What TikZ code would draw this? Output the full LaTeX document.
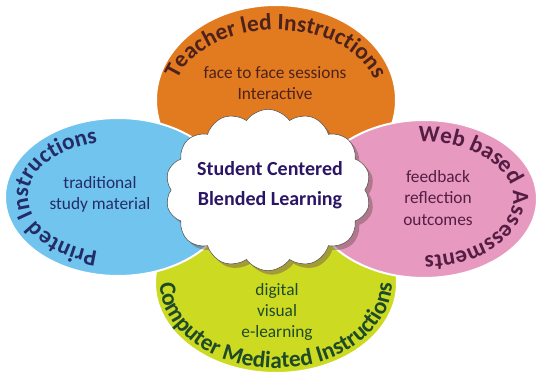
\documentclass[tikz,border=0pt]{standalone}
\usepackage{fontspec}
\setmainfont{Carlito}
\usetikzlibrary{shapes.symbols,shadows,decorations.text}

\definecolor{teacherfill}{RGB}{226,122,32}
\definecolor{printfill}{RGB}{112,196,238}
\definecolor{webfill}{RGB}{232,153,192}
\definecolor{compfill}{RGB}{205,218,34}
\definecolor{teachertxt}{RGB}{78,34,28}
\definecolor{printtxt}{RGB}{36,44,104}
\definecolor{webtxt}{RGB}{84,30,66}
\definecolor{comptxt}{RGB}{30,74,40}
\definecolor{cloudtxt}{RGB}{42,22,100}
\definecolor{cloudline}{RGB}{80,80,80}
\definecolor{cloudshade}{RGB}{110,80,80}

\newcommand{\titlefont}{\fontsize{17.5}{19}\bfseries\selectfont}

\begin{document}
\begin{tikzpicture}[x=0.75pt,y=0.75pt,
    every node/.style={inner sep=0pt,align=center,font=\fontsize{13}{15.8}\selectfont},
    petal/.style={draw=white,line width=1.5pt,fill=#1},
    arctitle/.style={decorate,decoration={text along path,text align=center,
        text={|\titlefont|#1}}}]
\useasboundingbox (0,0) rectangle (538,379);

\path[petal=teacherfill] (276,279) ellipse [x radius=120,y radius=95];
\path[petal=compfill] (276,96) ellipse [x radius=121,y radius=90];
\path[petal=printfill] (118,182) ellipse [x radius=113,y radius=79];
\path[petal=webfill] (424,180) ellipse [x radius=113,y radius=79];

\path[arctitle=Teacher led Instructions,decoration={text color=teachertxt}]
    (276,281) ++(170:102 and 68) arc [start angle=170,end angle=10,x radius=102,y radius=68];
\path[arctitle=Printed Instructions,decoration={text color=printtxt}]
    (118,182) ++(262:90 and 56) arc [start angle=262,end angle=98,x radius=90,y radius=56];
\path[arctitle=Web based Assessments,decoration={text color=webtxt}]
    (424,180) ++(98:89 and 57) arc [start angle=98,end angle=-94,x radius=89,y radius=57];
\path[arctitle=Computer Mediated Instructions,decoration={text color=comptxt}]
    (276,96) ++(174:116 and 85) arc [start angle=174,end angle=366,x radius=116,y radius=85];

\node[text=teachertxt] (teacher) at (275,295.5) {face to face sessions\\Interactive};
\node[text=printtxt] (printed) at (100,185) {traditional\\study material};
\node[text=webtxt] (web) at (438,181) {feedback\\reflection\\outcomes};
\node[text=comptxt] (computer) at (277,67) {digital\\visual\\e-learning};

\node[cloud,cloud puffs=14,cloud puff arc=110,aspect=1.3,draw=cloudline,fill=white,
    minimum width=154pt,minimum height=121pt,
    drop shadow={shadow xshift=3pt,shadow yshift=-3pt,opacity=0.45,fill=cloudshade}]
    (learning) at (268,189) {};
\node[text=cloudtxt,font=\fontsize{15}{22.5}\bfseries\selectfont] (centre) at (270,194)
    {Student Centered\\Blended Learning};
\end{tikzpicture}
\end{document}
